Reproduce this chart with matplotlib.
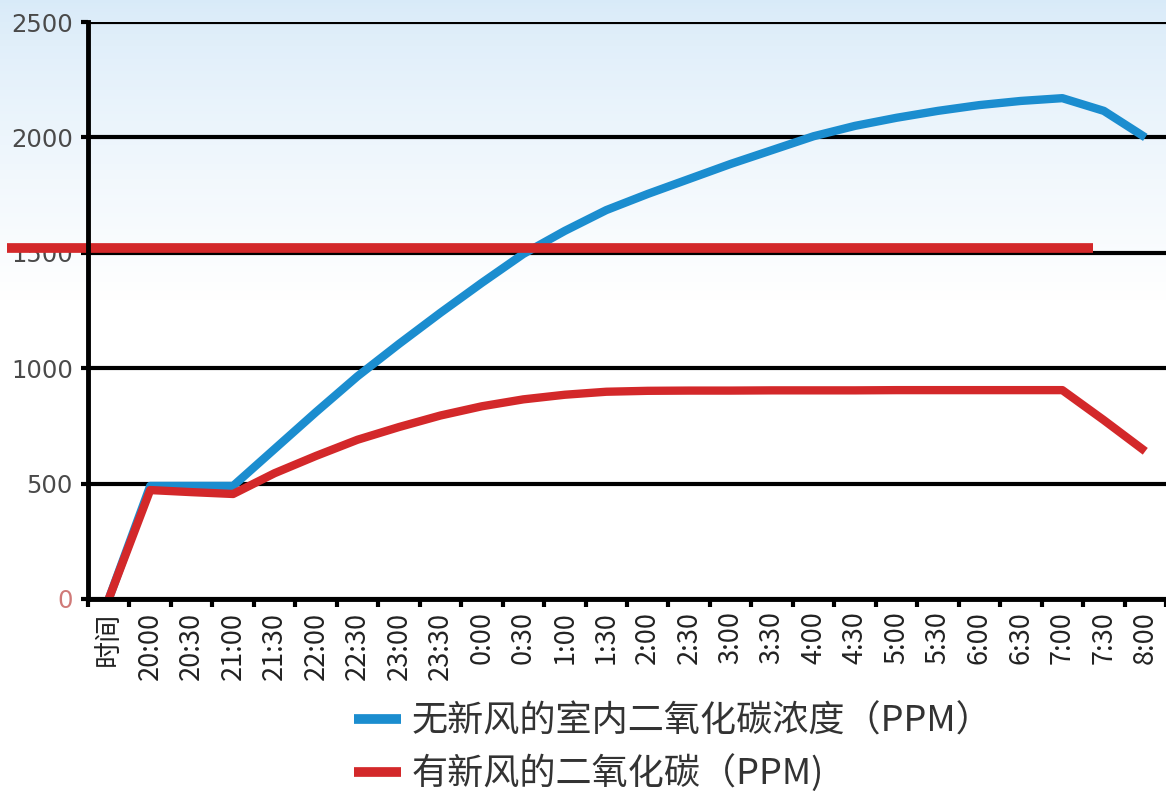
import numpy as np
import matplotlib
matplotlib.use("Agg")
from matplotlib import pyplot as plt

plt.rcParams['font.family'] = ['Noto Sans CJK SC', 'DejaVu Sans']

# category labels along the bottom
times = ["时间", "20:00", "20:30", "21:00", "21:30", "22:00", "22:30", "23:00",
         "23:30", "0:00", "0:30", "1:00", "1:30", "2:00", "2:30", "3:00",
         "3:30", "4:00", "4:30", "5:00", "5:30", "6:00", "6:30", "7:00",
         "7:30", "8:00"]

# no fresh air (blue)
no_fresh = [0, 490, 490, 490, 650, 810, 965, 1105, 1240, 1370, 1495, 1595,
            1685, 1755, 1820, 1885, 1945, 2005, 2050, 2085, 2115, 2140,
            2158, 2170, 2115, 2000]

# with fresh air (red)
with_fresh = [0, 472, 463, 455, 545, 620, 690, 745, 795, 835, 865, 885,
              898, 902, 903, 903, 904, 904, 904, 905, 905, 905, 905, 905,
              775, 640]

limit_value = 1522
limit_span = [-2.45, 23.75]

label_blue = "无新风的室内二氧化碳浓度（PPM）"
label_red = "有新风的二氧化碳（PPM)"

BLUE = "#1b8dcf"
RED = "#d3282a"


def main():
    fig = plt.figure(figsize=(11.66, 7.92), dpi=100)

    # light blue wash at the top of the picture
    bg = fig.add_axes([0, 0, 1, 1], zorder=-10)
    grad = np.linspace(0, 1, 256).reshape(-1, 1)
    top = np.array([0.85, 0.92, 0.975])
    white = np.array([1.0, 1.0, 1.0])
    w = np.clip(grad / 0.38, 0, 1) ** 0.8
    img = top * (1 - w[..., None]) + white * w[..., None]
    bg.imshow(img, aspect="auto", extent=[0, 1, 0, 1])
    bg.axis("off")

    ax = fig.add_axes([88 / 1166, 1 - 599 / 792, 1 - 88 / 1166, (599 - 22) / 792])
    ax.set_facecolor("none")

    x = np.arange(len(times))
    ax.plot(x, no_fresh, color=BLUE, lw=6, solid_capstyle="butt",
            solid_joinstyle="round", zorder=4, label=label_blue)
    ax.plot(x, with_fresh, color=RED, lw=6, solid_capstyle="butt",
            solid_joinstyle="round", zorder=5, label=label_red)
    ax.plot(limit_span, [limit_value, limit_value], color=RED, lw=7,
            solid_capstyle="butt", zorder=6, clip_on=False)

    ax.set_xlim(-0.5, len(times) - 0.5)
    ax.set_ylim(0, 2500)

    ax.set_yticks([0, 500, 1000, 1500, 2000, 2500])
    ax.set_yticklabels(["0", "500", "1000", "1500", "2000", "2500"],
                       fontsize=17.5, color="#4a4a4a", family="DejaVu Sans")
    ax.get_yticklabels()[0].set_color("#d07a78")
    ax.yaxis.grid(True, color="black", lw=3, zorder=1)
    ax.set_axisbelow(True)

    ax.set_xticks(x)
    ax.set_xticklabels(times, rotation=90, fontsize=19.5, color="#222222")
    ax.set_xticks(np.arange(len(times) + 1) - 0.5, minor=True)
    ax.tick_params(axis="x", which="major", length=0, pad=9)
    ax.tick_params(axis="x", which="minor", length=6, width=3, color="black")
    ax.tick_params(axis="y", length=5, width=3, color="black", pad=6)

    for side in ["top", "right"]:
        ax.spines[side].set_visible(False)
    for side in ["left", "bottom"]:
        ax.spines[side].set_linewidth(3.5)
        ax.spines[side].set_color("black")
        ax.spines[side].set_zorder(7)

    leg = fig.legend(loc="upper left", bbox_to_anchor=(354 / 1166, 1 - 704 / 792),
                     frameon=False, fontsize=26, handlelength=1.3,
                     handletextpad=0.3, labelspacing=0.4, borderpad=0,
                     borderaxespad=0)
    for t in leg.get_texts():
        t.set_color("#333333")
    for h in leg.legend_handles:
        h.set_linewidth(7)

    fig.savefig("out.png", dpi=100)


if __name__ == '__main__':
    main()
